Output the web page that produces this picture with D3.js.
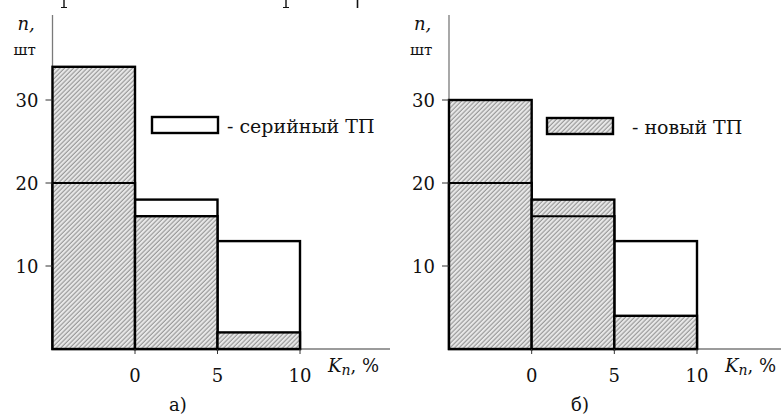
<!DOCTYPE html>
<html>
<head>
<meta charset="utf-8">
<script src="https://cdn.jsdelivr.net/npm/d3@7"></script>
<style>
  body { margin: 0; background: #fff; }
  svg { display: block; }
</style>
</head>
<body>
<svg width="781" height="417"></svg>
<script>
// bin edges of K_n, %
const binEdges = [-5, 0, 5, 10];
const xTicks = [0, 5, 10];
const yTicks = [10, 20, 30];

// panel а) and б): серийный ТП / новый ТП counts per bin
const serialA = [20, 18, 13];
const newA = [34, 16, 2];
const serialB = [20, 16, 13];
const newB = [30, 18, 4];

const panels = [
    { serial: serialA, fresh: newA, x0: 52.5, x1: 300, axisEnd: 390, caption: "а)", capX: 178,
      legend: { label: "- серийный ТП", hatched: false, x: 152, y: 117, tx: 227 } },
    { serial: serialB, fresh: newB, x0: 449, x1: 697, axisEnd: 781, caption: "б)", capX: 580,
      legend: { label: "- новый ТП", hatched: true, x: 547, y: 118, tx: 632 } }
];

const serif = "'DejaVu Serif', 'Liberation Serif', serif";
const svg = d3.select("svg").attr("font-family", serif).attr("fill", "#111");
const baseY = 349;

const defs = svg.append("defs");
const pat = defs.append("pattern")
    .attr("id", "hatch")
    .attr("patternUnits", "userSpaceOnUse")
    .attr("width", 3.2)
    .attr("height", 3.2)
    .attr("patternTransform", "rotate(45)");
pat.append("rect").attr("width", 3.2).attr("height", 3.2).attr("fill", "#e8e8e8");
pat.append("line")
    .attr("x1", 1).attr("y1", 0).attr("x2", 1).attr("y2", 3.2)
    .attr("stroke", "#959595").attr("stroke-width", 1.1);

// cut-off descenders of the text line above
[[64, 1.4], [286, 1.4], [357.5, 1.6]].forEach(([cx, w]) => {
    svg.append("line").attr("x1", cx).attr("x2", cx).attr("y1", 0).attr("y2", 8)
        .attr("stroke", "#111").attr("stroke-width", w);
});
[64, 286].forEach(cx => {
    svg.append("line").attr("x1", cx - 3).attr("x2", cx + 3).attr("y1", 7.5).attr("y2", 7.5)
        .attr("stroke", "#111").attr("stroke-width", 1);
});

panels.forEach(p => {
    const x = d3.scaleLinear().domain([-5, 10]).range([p.x0, p.x1]);
    const y = d3.scaleLinear().domain([0, 30]).range([baseY, 100]);
    const g = svg.append("g");

    const bins = d3.range(3).map(i => ({
        lo: binEdges[i], hi: binEdges[i + 1], s: p.serial[i], n: p.fresh[i]
    }));

    // axes
    g.append("line")
        .attr("x1", x(-5)).attr("x2", p.axisEnd)
        .attr("y1", baseY).attr("y2", baseY)
        .attr("stroke", "#7a7a7a").attr("stroke-width", 1.3);
    g.append("line")
        .attr("x1", x(-5)).attr("x2", x(-5))
        .attr("y1", 15).attr("y2", baseY)
        .attr("stroke", "#7a7a7a").attr("stroke-width", 1.3);

    // серийный ТП outline
    g.selectAll(".ser").data(bins).enter().append("rect")
        .attr("x", d => x(d.lo)).attr("width", d => x(d.hi) - x(d.lo))
        .attr("y", d => y(d.s)).attr("height", d => baseY - y(d.s))
        .attr("fill", "#fff").attr("stroke", "#000").attr("stroke-width", 2.4);

    // новый ТП hatched
    g.selectAll(".new").data(bins).enter().append("rect")
        .attr("x", d => x(d.lo)).attr("width", d => x(d.hi) - x(d.lo))
        .attr("y", d => y(d.n)).attr("height", d => baseY - y(d.n))
        .attr("fill", "url(#hatch)").attr("stroke", "#000").attr("stroke-width", 2.4);

    // serial level inside hatched bars
    g.selectAll(".lvl").data(bins.filter(d => d.s < d.n)).enter().append("line")
        .attr("x1", d => x(d.lo)).attr("x2", d => x(d.hi))
        .attr("y1", d => y(d.s)).attr("y2", d => y(d.s))
        .attr("stroke", "#000").attr("stroke-width", 2);

    // y ticks
    const yt = g.selectAll(".yt").data(yTicks).enter().append("g");
    yt.append("line")
        .attr("x1", x(-5) - 7).attr("x2", x(-5))
        .attr("y1", d => y(d)).attr("y2", d => y(d))
        .attr("stroke", "#333").attr("stroke-width", 1);
    yt.append("text")
        .attr("x", x(-5) - 14).attr("y", d => y(d) + 6.5)
        .attr("text-anchor", "end")
        .attr("font-size", 18)
        .text(d => d);

    // x ticks
    const xt = g.selectAll(".xt").data(xTicks).enter().append("g");
    xt.append("line")
        .attr("x1", d => x(d)).attr("x2", d => x(d))
        .attr("y1", baseY).attr("y2", baseY + 5)
        .attr("stroke", "#333").attr("stroke-width", 1);
    xt.append("text")
        .attr("x", d => x(d)).attr("y", 382)
        .attr("text-anchor", "middle")
        .attr("font-size", 18)
        .text(d => d);

    // axis titles
    g.append("text").attr("x", x(-5) - 35).attr("y", 30)
        .attr("font-size", 18).attr("font-style", "italic").text("n,");
    g.append("text").attr("x", x(-5) - 39).attr("y", 55)
        .attr("font-size", 15).text("шт");
    const kt = g.append("text").attr("x", x(10) + 28).attr("y", 372).attr("font-size", 18);
    kt.append("tspan").attr("font-style", "italic").text("K");
    kt.append("tspan").attr("font-style", "italic").attr("font-size", 14).attr("dy", 3).text("n");
    kt.append("tspan").attr("dy", -3).text(", %");

    // caption
    g.append("text").attr("x", p.capX).attr("y", 411)
        .attr("text-anchor", "middle").attr("font-size", 18).text(p.caption);

    // legend
    g.append("rect")
        .attr("x", p.legend.x).attr("y", p.legend.y)
        .attr("width", 66).attr("height", 16)
        .attr("fill", p.legend.hatched ? "url(#hatch)" : "#fff")
        .attr("stroke", "#000").attr("stroke-width", 2.4);
    g.append("text")
        .attr("x", p.legend.tx).attr("y", p.legend.y + 16)
        .attr("font-size", 19)
        .text(p.legend.label);
});
</script>
</body>
</html>
